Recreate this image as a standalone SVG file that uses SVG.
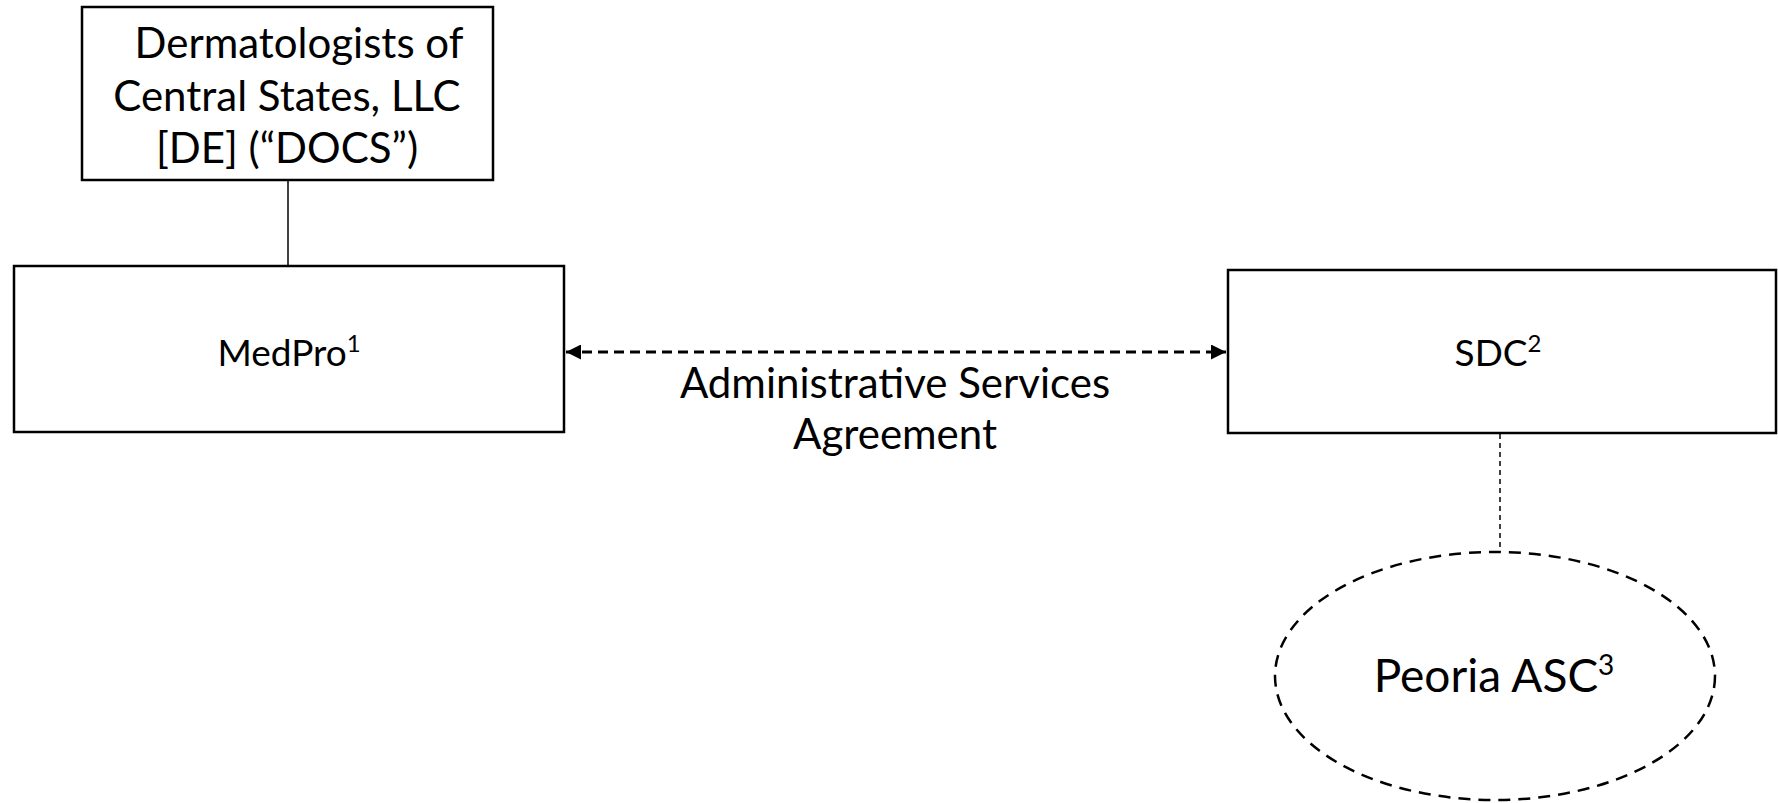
<svg xmlns="http://www.w3.org/2000/svg" width="1778" height="803" viewBox="0 0 1778 803">
<style>
.box{fill:#fff;stroke:#000;stroke-width:2.5}
.t{font-family:Lato,"Liberation Sans",sans-serif;font-size:42px;fill:#000;text-anchor:middle}
.n{font-size:37px}
.sup{font-size:24px}
</style>
<defs>
<marker id="ah" viewBox="0 0 10 10" refX="10" refY="5" markerWidth="5" markerHeight="5" orient="auto-start-reverse" markerUnits="strokeWidth">
<path d="M0,0 L10,5 L0,10 z" fill="#000"/>
</marker>
</defs>
<rect width="1778" height="803" fill="#fff"/>
<g id="connectors">
<line x1="288" y1="180" x2="288" y2="266" stroke="#000" stroke-width="1.5"/>
<line x1="566" y1="352" x2="1226" y2="352" stroke="#000" stroke-width="3" stroke-dasharray="10,6" marker-start="url(#ah)" marker-end="url(#ah)"/>
<line x1="1500" y1="434" x2="1500" y2="552" stroke="#000" stroke-width="1.5" stroke-dasharray="5,4"/>
<text class="t" x="895" y="398">Administrative Services</text>
<text class="t" x="895" y="449">Agreement</text>
</g>
<g id="docs">
<rect class="box" x="82" y="7" width="411" height="173"/>
<text class="t" x="299" y="58">Dermatologists of</text>
<text class="t" x="287" y="111">Central States, LLC</text>
<text class="t" x="287" y="163">[DE] (“DOCS”)</text>
</g>
<g id="medpro">
<rect class="box" x="14" y="266" width="550" height="166"/>
<text class="t n" x="289" y="366">MedPro<tspan class="sup" dy="-14">1</tspan></text>
</g>
<g id="sdc">
<rect class="box" x="1228" y="270" width="548" height="163"/>
<text class="t n" x="1498" y="366">SDC<tspan class="sup" dy="-14">2</tspan></text>
</g>
<g id="peoria">
<ellipse cx="1495" cy="676" rx="220" ry="124" fill="#fff" stroke="#000" stroke-width="2.5" stroke-dasharray="12,8"/>
<text class="t" x="1494" y="692" style="font-size:46px">Peoria ASC<tspan class="sup" dy="-17" style="font-size:28px">3</tspan></text>
</g>
</svg>
